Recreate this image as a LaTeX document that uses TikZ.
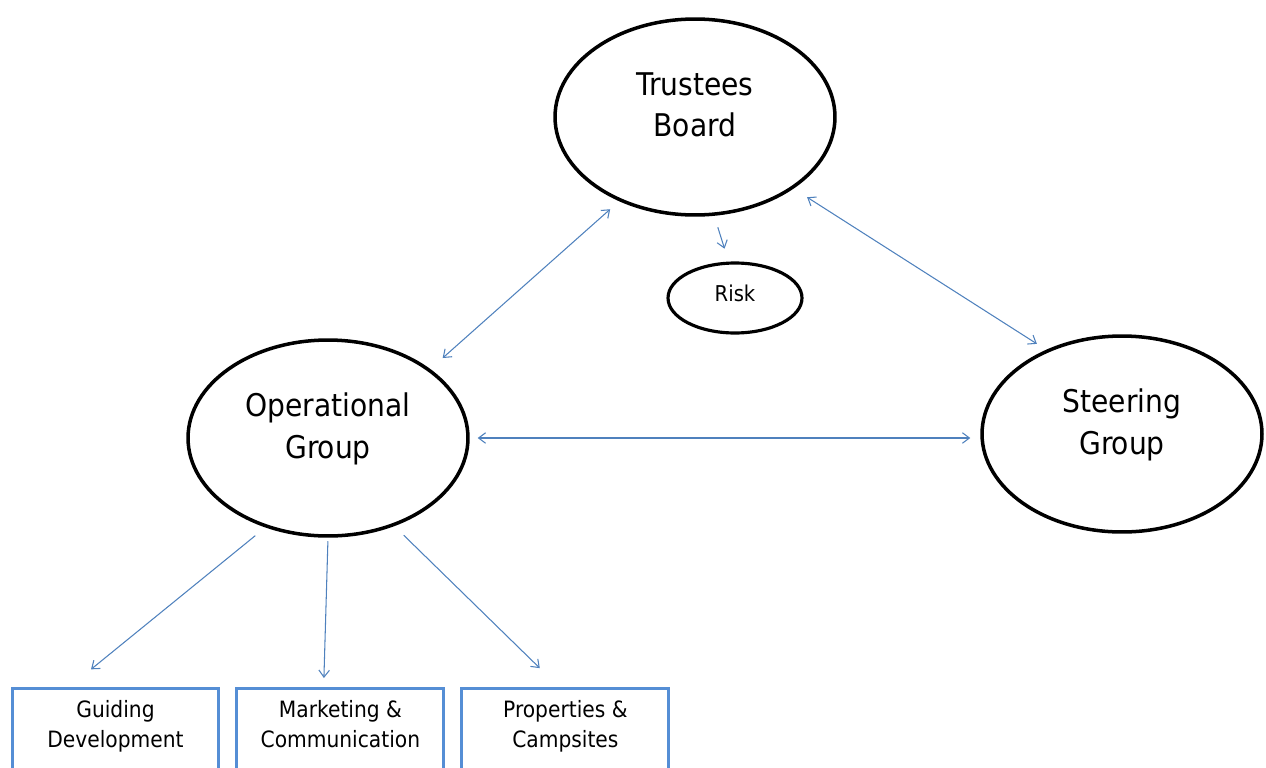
\documentclass[tikz,border=0pt]{standalone}
\usepackage{fontspec}
\setmainfont{DejaVu Sans Condensed}
\usetikzlibrary{shapes.geometric,positioning,arrows.meta,calc}
\definecolor{linkblue}{RGB}{79,129,189}
\definecolor{boxblue}{RGB}{85,142,213}
\tikzset{>={Straight Barb[length=4pt,width=6pt]},
  bignode/.style={ellipse,draw,line width=2pt,minimum width=5.6cm,minimum height=3.92cm,align=center,text depth=0.5cm,font=\fontsize{17.8}{23.5}\selectfont},
  smallnode/.style={ellipse,draw,line width=1.8pt,minimum width=2.68cm,minimum height=1.4cm,text depth=0.2cm,font=\fontsize{12.4}{14}\selectfont},
  teambox/.style={rectangle,draw=boxblue,line width=1.7pt,minimum width=4.14cm,anchor=north,align=center,inner ysep=0.24cm,text depth=1.8cm,font=\fontsize{12.8}{17}\selectfont},
  link/.style={every edge/.style={draw=linkblue,line width=0.6pt}}}

\begin{document}
\begin{tikzpicture}[x=0.02cm,y=-0.02cm]
  \useasboundingbox (0,0) rectangle (1266,767);
  \clip (0,0) rectangle (1266,767);

  \node[bignode] (tb) at (695,117) {Trustees\\Board};
  \node[smallnode] (rk) at (735,298) {Risk};
  \node[bignode] (og) at (328,438) {Operational\\Group};
  \node[bignode] (sg) at (1122,434) {Steering\\Group};

  \node[teambox] (gd) at (115.5,687) {Guiding\\Development};
  \node[teambox] (mc) [right=0.3cm of gd] {Marketing \&\\Communication};
  \node[teambox] (pc) [right=0.3cm of mc] {Properties \&\\Campsites};

  \path[link]
  (tb.228) edge [<->,shorten <=0.24cm,shorten >=0.33cm] (og.34)
  (tb.324) edge [<->,shorten <=0.32cm,shorten >=0.22cm] (sg.132)
  (og.east) edge [<->,shorten <=0.16cm,shorten >=0.2cm] (og.east -| sg.west)

  (tb.281) edge [->,shorten <=0.24cm,shorten >=0.27cm] (rk.100)

  (og.235) edge [->,shorten <=0.26cm,shorten >=0.56cm] ($(gd.north west)!0.28!(gd.north east)$)
  (og.south) edge [->,shorten <=0.07cm,shorten >=0.18cm] ($(mc.north west)!0.42!(mc.north east)$)
  (og.307) edge [->,shorten <=0.26cm,shorten >=0.54cm] ($(pc.north west)!0.47!(pc.north east)$)
  ;
\end{tikzpicture}
\end{document}
